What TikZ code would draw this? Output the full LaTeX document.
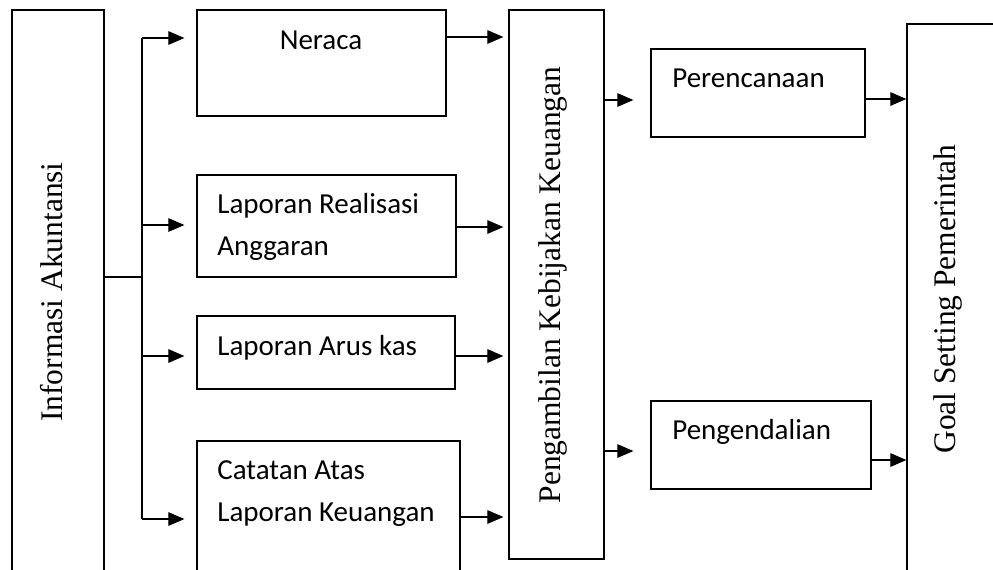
\documentclass[tikz,border=0pt]{standalone}
\usepackage{fontspec}
\setmainfont{Liberation Serif}
\newfontfamily\calibri{Carlito}
\usetikzlibrary{positioning, arrows.meta, fit}

\newcommand{\hurufserif}{\fontsize{17.9}{20}\selectfont}
\newcommand{\hurufsans}{\calibri\fontsize{16.5}{23.8}\selectfont}

\tikzset{
  kotak/.style={draw, line width=0.7pt, inner sep=0pt},
  isi/.style={font=\hurufsans, anchor=base west, inner sep=0pt, align=left},
  tegak/.style={font=\hurufserif, rotate=90, inner sep=0pt},
  panah/.style={-{Triangle[length=0.32cm,width=0.27cm]}, line width=0.65pt},
}

\begin{document}
\begin{tikzpicture}[x=0.02cm, y=-0.02cm]
\useasboundingbox (0,0) rectangle (993,569);

% kotak-kotak
\node[kotak, fit={(12,10) (104,640)}] (info) {};
\node[kotak, fit={(197,10) (446,116)}] (neraca) {};
\node[kotak, fit={(197,175) (456,277)}] (lra) {};
\node[kotak, fit={(197,316) (455,389)}] (arus) {};
\node[kotak, fit={(197,441) (460,640)}] (calk) {};
\node[kotak, fit={(509,10) (604,559)}] (ambil) {};
\node[kotak, fit={(651,49) (865,137)}] (rencana) {};
\node[kotak, fit={(651,401) (871,489)}] (kendali) {};
\node[kotak, fit={(907,24) (1040,640)}] (goal) {};

% tulisan
\node[tegak] (t-info) at (52,292) {Informasi Akuntansi};
\node[tegak] (t-ambil) at (553,285) {Pengambilan Kebijakan Keuangan};
\node[tegak] (t-goal) at (948,299) {Goal Setting Pemerintah};
\node[isi, anchor=base] (t-neraca) at (321,49) {Neraca};
\node[isi] (t-lra) at (217,255) {Laporan Realisasi\\Anggaran};
\node[isi] (t-arus) at (217,355) {Laporan Arus kas};
\node[isi] (t-calk) at (217,521) {Catatan Atas\\Laporan Keuangan};
\node[isi] (t-rencana) at (672,87) {Perencanaan};
\node[isi] (t-kendali) at (672,439) {Pengendalian};

% percabangan dari informasi akuntansi
\coordinate (cab) at (142,277);
\draw[line width=0.65pt] (info.east |- cab) -- (cab);
\draw[line width=0.65pt] (cab |- 0,38) -- (cab |- 0,519);
\draw[panah, shorten >=0.24cm] (cab |- 0,38) -- (neraca.west |- 0,38);
\draw[panah, shorten >=0.24cm] (cab |- 0,225) -- (lra.west |- 0,225);
\draw[panah, shorten >=0.24cm] (cab |- 0,356) -- (arus.west |- 0,356);
\draw[panah, shorten >=0.24cm] (cab |- 0,519) -- (calk.west |- 0,519);

% ke pengambilan kebijakan
\draw[panah, shorten >=0.1cm] (neraca.east |- 0,37) -- (ambil.west |- 0,37);
\draw[panah, shorten >=0.1cm] (lra.east |- 0,227) -- (ambil.west |- 0,227);
\draw[panah, shorten >=0.1cm] (arus.east |- 0,356) -- (ambil.west |- 0,356);
\draw[panah, shorten >=0.1cm] (calk.east |- 0,517) -- (ambil.west |- 0,517);

% perencanaan dan pengendalian
\draw[panah, shorten >=0.34cm] (ambil.east |- 0,100) -- (rencana.west |- 0,100);
\draw[panah, shorten >=0.34cm] (ambil.east |- 0,451) -- (kendali.west |- 0,451);
\draw[panah] (rencana.east |- 0,99) -- (goal.west |- 0,99);
\draw[panah] (kendali.east |- 0,460) -- (goal.west |- 0,460);
\end{tikzpicture}
\end{document}
